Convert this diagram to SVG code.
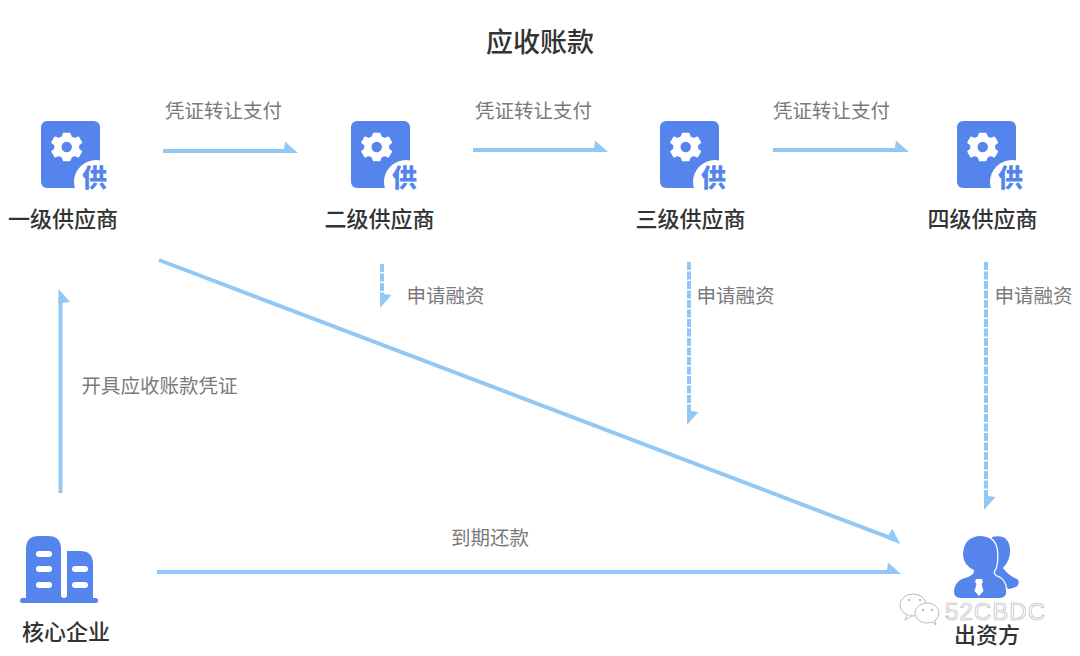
<svg xmlns="http://www.w3.org/2000/svg" xmlns:xlink="http://www.w3.org/1999/xlink" width="1080" height="656" viewBox="0 0 1080 656">
<style>
text{font-family:"Noto Sans CJK SC","Liberation Sans",sans-serif}
.title{font-size:27px;font-weight:500;fill:#333;text-anchor:middle}
.node{font-size:22px;font-weight:500;fill:#333;text-anchor:middle}
.edge{font-size:19.5px;fill:#7a7a7a;text-anchor:middle}
.line{fill:none;stroke:#93c8f4;stroke-width:4;marker-end:url(#head)}
.up{marker-end:url(#headR)}
.dash{stroke-dasharray:8 1.5}
.blue{fill:#5585ec}
.gong{font-size:25px;font-weight:900;fill:#5585ec;text-anchor:middle}
.wm{font-size:24px;fill:#fff;stroke:#b0b0b0;stroke-width:.6;font-family:"Liberation Sans",sans-serif}
.bub{fill:#fff;stroke:#bbb;stroke-width:1}
</style>
<defs>
<marker id="head" markerUnits="userSpaceOnUse" markerWidth="24" markerHeight="24" refX="8" refY="12" orient="auto" overflow="visible">
<path d="M2,10 L3,2.500 L16,14 L0,14 Z" fill="#93c8f4"/>
</marker>
<marker id="headR" markerUnits="userSpaceOnUse" markerWidth="24" markerHeight="24" refX="8" refY="12" orient="auto" overflow="visible">
<path d="M2,14 L3,21.500 L16,10 L0,10 Z" fill="#93c8f4"/>
</marker>
<g id="supplier">
<rect x="0" y="0" width="59" height="67" rx="6" class="blue"/>
<g transform="translate(25.700 26) scale(.9) translate(-29.500 -29)">
<path fill="#fff" d="M26,14 l7,0 l1.500,4 l4,1.700 l4,-1.700 l3.500,6 l-3.400,2.800 v4.400 l3.400,2.800 l-3.500,6 l-4,-1.700 l-4,1.700 l-1.500,4 h-7 l-1.500,-4 l-4,-1.700 l-4,1.700 l-3.500,-6 l3.400,-2.800 v-4.400 l-3.400,-2.800 l3.500,-6 l4,1.700 l4,-1.700 Z" stroke="#fff" stroke-width="1.500" stroke-linejoin="round"/>
<circle cx="29.500" cy="29" r="5.800" class="blue"/>
</g>
<circle cx="55" cy="61" r="22" fill="#fff"/>
<text x="53.500" y="66" class="gong">供</text>
</g>
</defs>
<rect width="1080" height="656" fill="#fff"/>
<text x="540" y="52" class="title">应收账款</text>

<g id="connectors">
<path class="line" d="M163,151 H290"/>
<path class="line" d="M473,150 H600"/>
<path class="line" d="M773,150 H901"/>
<path class="line dash" d="M382,264 V300"/>
<path class="line dash" d="M689,262 V417"/>
<path class="line dash" d="M986,262 V502"/>
<path class="line up" d="M60.500,493 V297"/>
<path class="line" d="M159,260 L893.500,539.200"/>
<path class="line" d="M157,572 H893"/>
</g>
<g id="connector-labels">
<text x="223.500" y="118" class="edge">凭证转让支付</text>
<text x="533.500" y="118" class="edge">凭证转让支付</text>
<text x="831.500" y="118" class="edge">凭证转让支付</text>
<text x="445.500" y="303" class="edge">申请融资</text>
<text x="735.500" y="303" class="edge">申请融资</text>
<text x="1033.500" y="303" class="edge">申请融资</text>
<text x="159.500" y="393" class="edge">开具应收账款凭证</text>
<text x="490" y="545" class="edge">到期还款</text>
</g>

<g id="n1"><use xlink:href="#supplier" href="#supplier" x="41" y="121"/><text x="63" y="227" class="node">一级供应商</text></g>
<g id="n2"><use xlink:href="#supplier" href="#supplier" x="351" y="121"/><text x="379.500" y="227" class="node">二级供应商</text></g>
<g id="n3"><use xlink:href="#supplier" href="#supplier" x="660" y="121"/><text x="690.500" y="227" class="node">三级供应商</text></g>
<g id="n4"><use xlink:href="#supplier" href="#supplier" x="957" y="121"/><text x="982.500" y="227" class="node">四级供应商</text></g>

<g id="core">
<path class="blue" d="M26,598 V549 Q26,536 39,536 H48 Q61,536 61,549 V595 Q61,598 64,598 Q67,598 67,595 V551 H80 Q93,551 93,564 V598 H96 Q98,598 98,600.500 Q98,603 96,603 H22 Q20,603 20,600.500 Q20,598 22,598 Z"/>
<g fill="#fff">
<rect x="36" y="551" width="16" height="6" rx="3"/><rect x="36" y="566" width="16" height="6" rx="3"/><rect x="36" y="582" width="16" height="6" rx="3"/>
<rect x="72" y="566" width="16" height="6" rx="3"/><rect x="72" y="582" width="16" height="6" rx="3"/>
</g>
<text x="66" y="640" class="node">核心企业</text>
</g>

<g id="funder">
<path class="blue" d="M992,537 Q1008,533 1010,548 Q1011,560 1003,568 Q1009,576 1017,579 Q1020,581 1018,585 Q1016,588 1008,589 L990,570 Z"/>
<path class="blue" stroke="#fff" stroke-width="2.500" paint-order="stroke" d="M979,536 Q996,536 997,552 Q998,566 994,571 Q992,575 1000,578 Q1006,582 1006,590 V593 Q1006,598 998,598 H962 Q954,598 954,592 Q954,583 962,579 Q975,576 974,570 Q964,566 963,555 Q963,538 979,536 Z"/>
<path fill="#fff" d="M976,579 h6 l1,3 l-1.500,2 l2,7 l-4.500,5 l-4.500,-5 l2,-7 l-1.500,-2 Z"/>
<text x="987" y="643" class="node">出资方</text>
</g>

<g id="watermark">
<ellipse cx="913" cy="605" rx="13" ry="11" class="bub"/>
<circle cx="909" cy="600" r="1.200" fill="#bbb"/><circle cx="920" cy="600" r="1.200" fill="#bbb"/>
<path d="M907,615 L905,620 L912,616" class="bub"/>
<ellipse cx="927" cy="613" rx="12" ry="10" class="bub"/>
<circle cx="923" cy="610" r="1.200" fill="#bbb"/><circle cx="932" cy="610" r="1.200" fill="#bbb"/>
<path d="M932,622 L936,625 L935,620" class="bub"/>
<text x="945" y="620" class="wm" textLength="100">52CBDC</text>
</g>
</svg>
